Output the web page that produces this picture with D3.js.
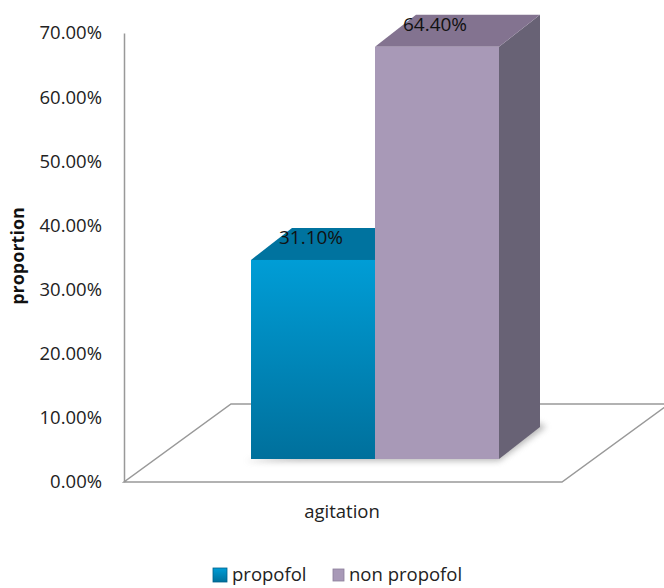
<!DOCTYPE html>
<html>
<head>
<meta charset="utf-8">
<script src="https://cdn.jsdelivr.net/npm/d3@7"></script>
<style>
  body { margin: 0; background: #fff; }
  svg { display: block; font-family: "Open Sans", sans-serif; }
</style>
</head>
<body>
<div class="container"></div>
<script>
// data
const categories = ["agitation"];
const seriesNames = ["propofol", "non propofol"];
const seriesValues = [31.1, 64.4];
const tickValues = [0, 10, 20, 30, 40, 50, 60, 70];

const width = 664, height = 588;

let svg = d3.select(".container")
  .append("svg")
  .attr("width", width)
  .attr("height", height);

let defs = svg.append("defs");

let blueGrad = defs.append("linearGradient")
  .attr("id", "blueFront")
  .attr("x1", 0).attr("y1", 0).attr("x2", 0).attr("y2", 1);
blueGrad.append("stop").attr("offset", "0%").attr("stop-color", "#009dd6");
blueGrad.append("stop").attr("offset", "100%").attr("stop-color", "#00709c");

let shadow = defs.append("filter")
  .attr("id", "blur")
  .attr("x", "-20%").attr("y", "-50%").attr("width", "140%").attr("height", "200%");
shadow.append("feGaussianBlur").attr("stdDeviation", 3);

// axis on back wall
let yAxisScale = d3.scaleLinear().domain([0, 70]).range([482, 33]);
// bar front plane
let yBar = d3.scaleLinear().domain([0, 70]).range([459, 11]);
let x = d3.scaleBand().domain(seriesNames).range([251, 499]).paddingInner(0);

const floorDepth = [107, -78];
const barDepth = [41, -32];

// floor
let fx0 = 124, fx1 = 562, fy = yAxisScale(0);
svg.append("path")
  .attr("d", `M${fx0},${fy} L${fx1},${fy} L${fx1 + floorDepth[0]},${fy + floorDepth[1]} L${fx0 + floorDepth[0]},${fy + floorDepth[1]} Z`)
  .attr("fill", "#fff")
  .attr("stroke", "#999")
  .attr("stroke-width", 1.5);

// y axis
let yAxis = d3.axisLeft(yAxisScale)
  .tickValues(tickValues)
  .tickSize(0)
  .tickPadding(22)
  .tickFormat(d => d.toFixed(2) + "%");

let axisG = svg.append("g")
  .attr("transform", "translate(124,0)")
  .call(yAxis);
axisG.select(".domain").attr("stroke", "#999").attr("stroke-width", 1.5);
axisG.selectAll("text")
  .attr("font-size", 18.5)
  .attr("fill", "#222")
  .attr("font-family", "Open Sans, sans-serif");

svg.append("text")
  .attr("transform", "translate(24,256) rotate(-90)")
  .attr("text-anchor", "middle")
  .attr("font-size", 18)
  .attr("font-weight", "bold")
  .attr("fill", "#111")
  .text("proportion");

// bar shadows
svg.append("path")
  .attr("d", `M${x(seriesNames[0]) - 6},${yBar(0) + 2} L${x(seriesNames[1]) + x.bandwidth()},${yBar(0) + 2} L${x(seriesNames[1]) + x.bandwidth() + barDepth[0] + 6},${yBar(0) + barDepth[1]} L${x(seriesNames[1]) + x.bandwidth() + barDepth[0]},${yBar(0) + barDepth[1] - 4} Z`)
  .attr("fill", "#888")
  .attr("opacity", 0.6)
  .attr("filter", "url(#blur)");

const colors = [
  { front: "url(#blueFront)", top: "#00739f", side: "#005a7c" },
  { front: "#a899b7", top: "#837390", side: "#686275" }
];

let bars = svg.selectAll(".bar")
  .data(seriesValues)
  .enter().append("g")
  .attr("class", "bar");

bars.each(function(v, i) {
  let g = d3.select(this);
  let x0 = x(seriesNames[i]), x1 = x0 + x.bandwidth();
  let y0 = yBar(0), y1 = yBar(v);
  let [dx, dy] = barDepth;
  // side
  g.append("path")
    .attr("d", `M${x1},${y1} L${x1 + dx},${y1 + dy} L${x1 + dx},${y0 + dy} L${x1},${y0} Z`)
    .attr("fill", colors[i].side);
  // top
  g.append("path")
    .attr("d", `M${x0},${y1} L${x0 + dx},${y1 + dy} L${x1 + dx},${y1 + dy} L${x1},${y1} Z`)
    .attr("fill", colors[i].top);
  // front
  g.append("rect")
    .attr("x", x0)
    .attr("y", y1)
    .attr("width", x1 - x0)
    .attr("height", y0 - y1)
    .attr("fill", colors[i].front);
});

// value labels
svg.selectAll(".label")
  .data(seriesValues)
  .enter().append("text")
  .attr("class", "label")
  .attr("x", (d, i) => x(seriesNames[i]) + x.bandwidth() / 2 - 2)
  .attr("y", d => yBar(d) - 16)
  .attr("text-anchor", "middle")
  .attr("font-size", 19)
  .attr("fill", "#111")
  .text(d => d.toFixed(2) + "%");

// category label
svg.append("text")
  .attr("x", 342)
  .attr("y", 518)
  .attr("text-anchor", "middle")
  .attr("font-size", 18.5)
  .attr("fill", "#222")
  .text(categories[0]);

// legend
let legend = svg.append("g").attr("transform", "translate(213,568)");
let legendX = [0, 119];
seriesNames.forEach((name, i) => {
  let row = legend.append("g").attr("transform", `translate(${legendX[i]},0)`);
  row.append("rect")
    .attr("x", i === 0 ? 0 : 1)
    .attr("y", i === 0 ? 0 : 1)
    .attr("width", i === 0 ? 14 : 11)
    .attr("height", i === 0 ? 14 : 12)
    .attr("fill", i === 0 ? "url(#blueFront)" : "#a899b7")
    .attr("stroke", i === 0 ? "#00608a" : "#8a7d99")
    .attr("stroke-width", 0.8);
  row.append("text")
    .attr("x", i === 0 ? 19 : 17)
    .attr("y", 13)
    .attr("font-size", 18.5)
    .attr("fill", "#222")
    .text(name);
});
</script>
</body>
</html>
